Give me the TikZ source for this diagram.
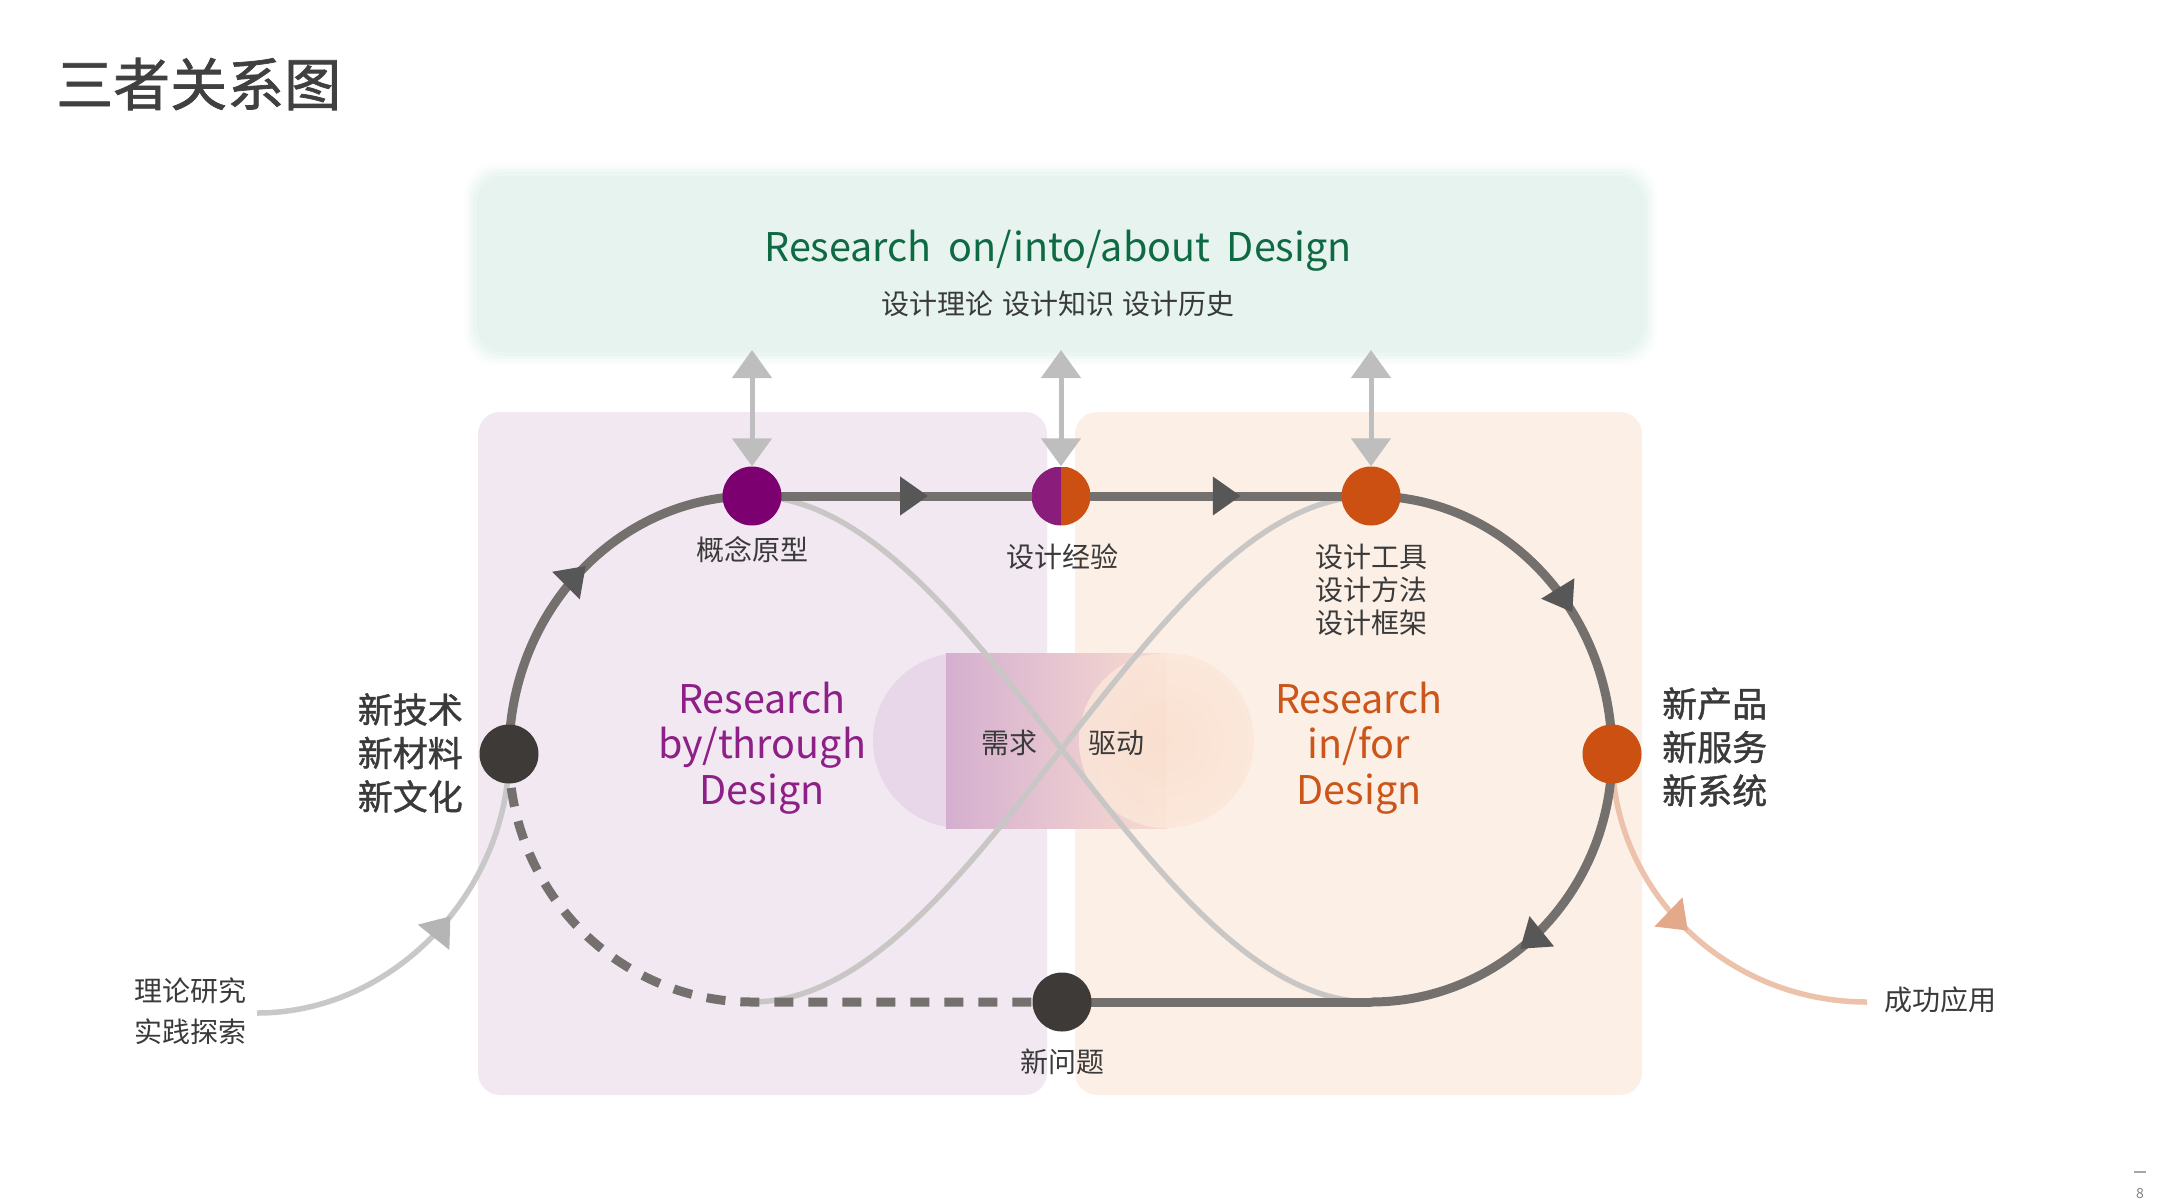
\documentclass[tikz,border=0pt]{standalone}
\usepackage{fontspec}
\setmainfont{Noto Sans CJK SC}
\newfontfamily\boldcjk[FakeBold=1.2]{Noto Sans CJK SC}
\usetikzlibrary{arrows.meta,decorations.markings}
\definecolor{greenFill}{HTML}{E6F3EE}
\definecolor{greenText}{HTML}{0F6A44}
\definecolor{purpleBg}{HTML}{F2E8F2}
\definecolor{orangeBg}{HTML}{FCEFE6}
\definecolor{nodePurple}{HTML}{7D0070}
\definecolor{nodeHalfPurple}{HTML}{8A1C7B}
\definecolor{nodeOrange}{HTML}{CB5012}
\definecolor{nodeDark}{HTML}{3E3A38}
\definecolor{purpleText}{HTML}{8E1F86}
\definecolor{orangeText}{HTML}{CC5519}
\definecolor{textDark}{HTML}{3A3A3A}
\definecolor{titleGray}{HTML}{404040}
\definecolor{lineGray}{HTML}{74706D}
\definecolor{arrowGray}{HTML}{575757}
\definecolor{lightCurve}{HTML}{C9C7C6}
\definecolor{vertGray}{HTML}{BEBEBE}
\definecolor{salmonLine}{HTML}{EDC2AA}
\definecolor{salmonHead}{HTML}{E3A98A}
\definecolor{entryLine}{HTML}{C8C8C8}
\definecolor{entryHead}{HTML}{B5B5B5}
\definecolor{pillLeft}{HTML}{E7D7E8}
\definecolor{pillRectL}{HTML}{D5AFD0}
\definecolor{pillRectR}{HTML}{F8DBD0}
\definecolor{pillRightIn}{HTML}{FAE0CE}
\definecolor{pillRightOut}{HTML}{FBE7DA}
\pgfdeclarelayer{bg}
\pgfdeclarelayer{lines}
\pgfsetlayers{bg,lines,main}
\begin{document}
\begin{tikzpicture}[x=1pt,y=-1pt,
  dot/.style={circle, minimum size=59pt, inner sep=0pt},
  mainline/.style={line width=9pt, draw=lineGray},
  lightline/.style={line width=5.5pt, draw=lightCurve},
  lab/.style={font=\fontsize{28}{33}\selectfont, text=textDark, align=center, inner sep=0pt},
  biglab/.style={font=\boldcjk\fontsize{35}{43.5}\selectfont, text=textDark, align=center, inner sep=0pt},
  bigeng/.style={font=\fontsize{39.5}{45.5}\selectfont, align=center, inner sep=0pt},
  mainarrow/.style={postaction={decorate}, decoration={markings, mark=at position #1 with {\arrow{Triangle[length=28pt,width=37pt,color=arrowGray]}}}},
  vertarrow/.style={line width=5pt, draw=vertGray, {Triangle[length=28pt,width=39pt,color=vertGray]}-{Triangle[length=28pt,width=39pt,color=vertGray]}}
]
\useasboundingbox (0,0) rectangle (2161,1200);

% ---------- background ----------
\begin{pgfonlayer}{bg}
\fill[purpleBg, rounded corners=22pt] (478,412) rectangle (1047,1095);
\fill[orangeBg, rounded corners=22pt] (1075,412) rectangle (1642,1095);
\foreach \i/\o in {10/0.12, 7/0.2, 4/0.35, 1/0.6}
  \fill[greenFill, opacity=\o, rounded corners=30pt] (474-\i,173-\i) rectangle (1647+\i,355+\i);
\fill[greenFill, rounded corners=26pt] (477,176) rectangle (1644,352);
% pill
\fill[pillLeft] (960.5,740.5) circle[radius=87.5];
\shade[left color=pillRectL, right color=pillRectR] (946,653) rectangle (1166.5,828);
\shade[inner color=pillRightIn, outer color=pillRightOut, opacity=0.85] (1166.5,740.5) circle[radius=87.5];
\end{pgfonlayer}

% ---------- nodes ----------
\node[dot, fill=nodePurple] (A) at (752,496) {};
\node[dot, path picture={
  \fill[nodeHalfPurple] (path picture bounding box.south west) rectangle (path picture bounding box.north);
  \fill[nodeOrange] (path picture bounding box.south) rectangle (path picture bounding box.north east);}] (B) at (1061,496) {};
\node[dot, fill=nodeOrange] (C) at (1371,496) {};
\node[dot, fill=nodeDark] (L) at (509,754) {};
\node[dot, fill=nodeOrange] (R) at (1612,754) {};
\node[dot, fill=nodeDark] (Bot) at (1062,1002) {};

\coordinate (BL) at (752,1002);
\coordinate (BR) at (1371,1002);
\coordinate (T1) at (257,1013);
\coordinate (T2) at (1867,1002);
\coordinate (gA) at (752,350);
\coordinate (gB) at (1061,350);
\coordinate (gC) at (1371,350);

% ---------- texts ----------
\node[anchor=west, font=\boldcjk\fontsize{57}{60}\selectfont, text=titleGray, inner sep=0pt] (title) at (56,84) {三者关系图};
\node[font=\fontsize{39.5}{44}\selectfont, text=greenText, inner sep=0pt] (gt) at (1058,251) {Research\hspace{0.42em}on/into/about\hspace{0.42em}Design};
\node[lab] (gsub) at (1058,304) {设计理论\hspace{0.3em}设计知识\hspace{0.3em}设计历史};
\node[lab] (la) at (752,550) {概念原型};
\node[lab] (lb) at (1062,557) {设计经验};
\node[lab] (lc) at (1371,590) {设计工具\\设计方法\\设计框架};
\node[lab] (lbot) at (1062,1062) {新问题};
\node[biglab, anchor=east] (ll) at (463,753) {新技术\\新材料\\新文化};
\node[biglab, anchor=west] (lr) at (1662,747) {新产品\\新服务\\新系统};
\node[lab, font=\fontsize{28}{41}\selectfont] (lt) at (190,1011) {理论研究\\实践探索};
\node[lab, anchor=west] (ls) at (1884,1000) {成功应用};
\node[bigeng, text=purpleText] (rp) at (762,748) {Research\\by/through\\Design};
\node[bigeng, text=orangeText] (ro) at (1359,748) {Research\\in/for\\Design};
\node[lab] (xq) at (1009,743) {需求};
\node[lab] (qd) at (1116,743) {驱动};
\node[font=\fontsize{14}{16}\selectfont, text=gray, inner sep=0pt] (pg) at (2140,1193) {8};
\draw[line width=2.5pt, draw=gray!70] (2134,1172) -- (2146,1172);

% ---------- connectors ----------
\begin{pgfonlayer}{lines}
% light figure-eight curves
\draw[lightline] (A.center) .. controls +(225,0) and +(-225,0) .. (BR);
\draw[lightline] (C.center) .. controls +(-225,0) and +(225,0) .. (BL);
% vertical double arrows
\draw[vertarrow] (gA) -- (A.north);
\draw[vertarrow] (gB) -- (B.north);
\draw[vertarrow] (gC) -- (C.north);
% entry and exit
\draw[line width=5.5pt, draw=entryLine, postaction={decorate}, decoration={markings, mark=at position 0.56 with {\arrow{Triangle[length=27pt,width=39pt,color=entryHead]}}}]
  (T1) .. controls +(139,0) and +(0,134) .. (L.center);
\draw[line width=5.5pt, draw=salmonLine, postaction={decorate}, decoration={markings, mark=at position 0.5 with {\arrow{Triangle[length=27pt,width=39pt,color=salmonHead]}}}]
  (R.center) .. controls +(0,137) and +(-141,0) .. (T2);
% main loop
\draw[mainline, mainarrow=0.57] (A.center) -- (B.center);
\draw[mainline, mainarrow=0.58] (B.center) -- (C.center);
\draw[mainline, mainarrow=0.62] (C.center) .. controls +(133,0) and +(0,-142.5) .. (R.center);
\draw[mainline, mainarrow=0.58] (R.center) .. controls +(0,137) and +(133,0) .. (BR);
\draw[mainline] (BR) -- (Bot.center);
\draw[mainline, mainarrow=0.53] (L.center) .. controls +(0,-142.5) and +(-134,0) .. (A.center);
\draw[mainline, dash pattern=on 19pt off 15pt] (L.center) .. controls +(0,137) and +(-134,0) .. (BL) -- (Bot.center);
\end{pgfonlayer}
\end{tikzpicture}
\end{document}
